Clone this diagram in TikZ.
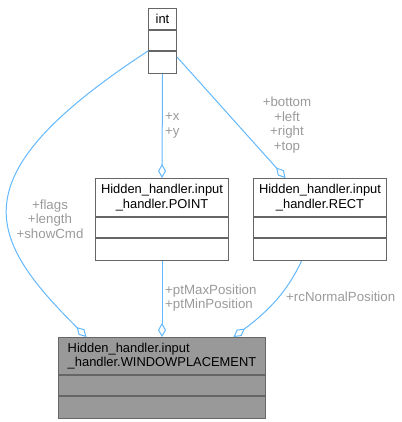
\documentclass[tikz,border=0pt]{standalone}
\usepackage{fontspec}
\setmainfont{Liberation Sans}
\usetikzlibrary{positioning,arrows.meta}
\definecolor{edgeblue}{HTML}{63B8FF}
\definecolor{labelgray}{HTML}{9A9A9A}
\definecolor{boxgray}{HTML}{666666}
\definecolor{mainfill}{HTML}{999999}
\tikzset{
	every node/.style={font=\fontsize{12.9}{14.5}\selectfont},
	classtitle/.style={draw=boxgray, line width=1pt, fill=white, minimum width=#1, inner sep=0pt, align=center, anchor=north west},
	classrow/.style={draw=boxgray, line width=1pt, fill=white, minimum width=#1, minimum height=20pt, inner sep=0pt},
	memberlabel/.style={text=labelgray, inner sep=0pt, align=center, font=\fontsize{13.3}{14.7}\selectfont},
	link/.style={draw=edgeblue, line width=1pt, -{Diamond[open, length=14pt, width=8pt]}}
}
\begin{document}
\begin{tikzpicture}[x=1pt, y=-1pt]
	\useasboundingbox (0,0) rectangle (401,422);
	% int
	\node[classtitle=28pt, minimum height=21pt] (intT) at (148,8) {int};
	\node[classrow=28pt, below=0pt of intT] (intA) {};
	\node[classrow=28pt, minimum height=22pt, below=0pt of intA] (intM) {};
	% POINT
	\node[classtitle=133pt, minimum height=38pt] (pointT) at (95,178) {Hidden\_handler.input\\\_handler.POINT};
	\node[classrow=133pt, below=0pt of pointT] (pointA) {};
	\node[classrow=133pt, minimum height=22pt, below=0pt of pointA] (pointM) {};
	% RECT
	\node[classtitle=133pt, minimum height=38pt] (rectT) at (253,178) {Hidden\_handler.input\\\_handler.RECT};
	\node[classrow=133pt, below=0pt of rectT] (rectA) {};
	\node[classrow=133pt, minimum height=22pt, below=0pt of rectA] (rectM) {};
	% WINDOWPLACEMENT
	\node[classtitle=207pt, minimum height=37pt, fill=mainfill, align=left] (wpT) at (58,337) {Hidden\_handler.input\\\_handler.WINDOWPLACEMENT};
	\node[classrow=207pt, fill=mainfill, below=0pt of wpT] (wpA) {};
	\node[classrow=207pt, minimum height=22pt, fill=mainfill, below=0pt of wpA] (wpM) {};

	% members
	\draw[link] (intM.south) -- (pointT.north);
	\draw[link] ([yshift=-6pt]intM.north east) -- ([xshift=-34.5pt]rectT.north);
	\draw[link] (intA.south west) .. controls (-43,176) and (-14,237) .. ([xshift=-75.5pt]wpT.north);
	\draw[link] (pointM.south) -- (wpT.north);
	\draw[link] ([xshift=-18.5pt]rectM.south) .. controls (288,290) and (270,310) .. ([xshift=71.5pt]wpT.north);

	\node[memberlabel, anchor=west, align=left] (lblXY) at (165,125.5) {+x\\+y};
	\node[memberlabel] (lblRect) at (287,125) {+bottom\\+left\\+right\\+top};
	\node[memberlabel] (lblWp) at (50,219) {+flags\\+length\\+showCmd};
	\node[memberlabel, anchor=west, align=left] (lblPt) at (165,298) {+ptMaxPosition\\+ptMinPosition};
	\node[memberlabel, anchor=west] (lblRc) at (286,297) {+rcNormalPosition};
\end{tikzpicture}
\end{document}
